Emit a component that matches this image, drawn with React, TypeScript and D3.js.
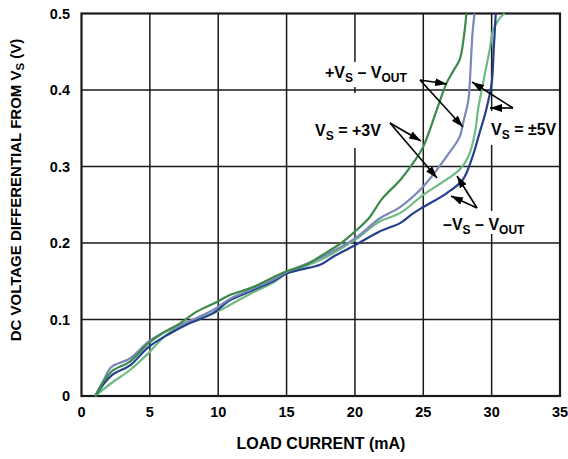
import React from "react";
import * as d3 from "d3";

const xTicks = [0, 5, 10, 15, 20, 25, 30, 35];
const yTicks = [0, 0.1, 0.2, 0.3, 0.4, 0.5];
const yTickLabels = ["0", "0.1", "0.2", "0.3", "0.4", "0.5"];

const darkGreen: [number, number][] = [
  [1, 0], [2.2, 0.032], [3.55, 0.045], [4.9, 0.069], [6, 0.083], [7.2, 0.095], [8.4, 0.11],
  [9.9, 0.123], [10.85, 0.132], [12.5, 0.142], [14, 0.155], [15, 0.163], [16.5, 0.172],
  [17.5, 0.183], [19, 0.2], [20, 0.215], [21, 0.232], [22, 0.258], [23.3, 0.282], [24.2, 0.303],
  [25, 0.326], [26.1, 0.38], [26.7, 0.409], [27.2, 0.425], [27.67, 0.44], [28.0, 0.474], [28.15, 0.5],
];
const slateBlue: [number, number][] = [
  [1, 0], [1.6, 0.02], [2.2, 0.038], [3.55, 0.049], [4.9, 0.071], [6, 0.083], [7.9, 0.098],
  [9.6, 0.112], [10.85, 0.127], [12.5, 0.14], [14, 0.152], [15, 0.162], [17.5, 0.181], [20, 0.206],
  [21.8, 0.232], [23.3, 0.247], [25, 0.274], [26.7, 0.313], [27.67, 0.339], [27.9, 0.356],
  [28.3, 0.387], [28.4, 0.409], [28.6, 0.474], [28.75, 0.5],
];
const lightGreen: [number, number][] = [
  [1, 0], [2.2, 0.017], [3.55, 0.034], [4.9, 0.056], [6.2, 0.08], [7.9, 0.097], [9.9, 0.11],
  [10.85, 0.119], [12.5, 0.135], [14, 0.148], [15, 0.16], [17.5, 0.178], [20, 0.204], [21.8, 0.228],
  [23.3, 0.239], [25, 0.263], [27.67, 0.296], [28.3, 0.313], [28.77, 0.343], [29.0, 0.374],
  [29.37, 0.409], [29.85, 0.452], [30.1, 0.478], [30.6, 0.494], [30.95, 0.5],
];
const darkBlue: [number, number][] = [
  [1, 0], [2.2, 0.027], [3.55, 0.04], [4.9, 0.064], [6.5, 0.082], [7.9, 0.095], [9.6, 0.108],
  [10.85, 0.125], [12.5, 0.138], [14, 0.15], [15, 0.16], [16, 0.165], [17.5, 0.172], [18.5, 0.183],
  [20, 0.197], [21.8, 0.215], [23.3, 0.226], [24.2, 0.238], [25, 0.247], [26.7, 0.265],
  [27.9, 0.283], [28.64, 0.315], [29.1, 0.343], [29.6, 0.374], [30.0, 0.409], [30.15, 0.452], [30.3, 0.5],
];

const series = [
  { data: lightGreen, color: "#6dbb82" },
  { data: darkBlue, color: "#22408e" },
  { data: slateBlue, color: "#7b88b8" },
  { data: darkGreen, color: "#3b8a4c" },
];

const W = 568, H = 459;
const left = 81.5, right = 560, top = 13.5, bottom = 396;
const FONT = "'Liberation Sans', Arial, sans-serif";

export default function App() {
  const x = d3.scaleLinear().domain([0, 35]).range([left, right]);
  const y = d3.scaleLinear().domain([0, 0.5]).range([bottom, top]);
  const line = d3
    .line<[number, number]>()
    .x((d) => x(d[0]))
    .y((d) => y(d[1]))
    .curve(d3.curveCatmullRom.alpha(0.5));

  const arrows: [number, number, number, number][] = [
    [420, 80, 447, 84],
    [420, 80, 463, 127],
    [390, 123, 421, 141],
    [390, 123, 437, 178],
    [513, 108, 472, 82],
    [513, 108, 490, 108],
    [477, 208, 457, 176],
    [477, 208, 451, 196],
  ];

  const AF = 16;
  const SF = 12;
  const sub = (t: string) => (
    <tspan fontSize={SF} dy={3.5}>{t}</tspan>
  );

  return (
    <svg width={W} height={H} style={{ position: "absolute", left: 0, top: 0, background: "#fff" }}
      fontFamily={FONT}>
      <defs>
        <marker id="ah" viewBox="0 0 12 8" refX="12" refY="4" markerWidth="12" markerHeight="8"
          markerUnits="userSpaceOnUse" orient="auto">
          <path d="M0,0 L12,4 L0,8 z" fill="#000" />
        </marker>
      </defs>
      <rect width={W} height={H} fill="#fff" />
      {/* grid */}
      {xTicks.slice(1, -1).map((t) => (
        <line key={"gx" + t} x1={x(t)} x2={x(t)} y1={top} y2={bottom} stroke="#1a1a1a" strokeWidth={1.5} />
      ))}
      {yTicks.slice(1, -1).map((t) => (
        <line key={"gy" + t} x1={left} x2={right} y1={y(t)} y2={y(t)} stroke="#1a1a1a" strokeWidth={1.5} />
      ))}
      {/* label backgrounds */}
      <rect x={322} y={62} width={93} height={25} fill="#fff" />
      <rect x={310} y={93} width={75} height={55} fill="#fff" />
      <rect x={488} y={111} width={68} height={34} fill="#fff" />
      <rect x={440} y={211} width={90} height={23} fill="#fff" />
      {/* frame */}
      <rect x={left} y={top} width={right - left} height={bottom - top} fill="none" stroke="#1a1a1a" strokeWidth={2.2} />
      {/* curves */}
      {series.map((s, i) => (
        <path key={i} d={line(s.data) || ""} fill="none" stroke={s.color} strokeWidth={2.2} />
      ))}
      {/* arrows */}
      {arrows.map((a, i) => (
        <line key={"a" + i} x1={a[0]} y1={a[1]} x2={a[2]} y2={a[3]} stroke="#000" strokeWidth={1.6} markerEnd="url(#ah)" />
      ))}
      {/* annotations */}
      <text x={325} y={78} fontSize={AF} fontWeight="bold" fill="#000">
        +V{sub("S")}<tspan dy={-3.5} fontSize={AF}> – V</tspan>{sub("OUT")}
      </text>
      <text x={315} y={136} fontSize={AF} fontWeight="bold" fill="#000">
        V{sub("S")}<tspan dy={-3.5} fontSize={AF}> = +3V</tspan>
      </text>
      <text x={491} y={135} fontSize={AF} fontWeight="bold" fill="#000">
        V{sub("S")}<tspan dy={-3.5} fontSize={AF}> = ±5V</tspan>
      </text>
      <text x={443} y={230} fontSize={AF} fontWeight="bold" fill="#000">
        –V{sub("S")}<tspan dy={-3.5} fontSize={AF}> – V</tspan>{sub("OUT")}
      </text>
      {/* tick labels */}
      {xTicks.map((t) => (
        <text key={"tx" + t} x={x(t)} y={417} textAnchor="middle" fontSize={14.5} fontWeight="bold">{t}</text>
      ))}
      {yTicks.map((t, i) => (
        <text key={"ty" + t} x={70} y={y(t) + 5} textAnchor="end" fontSize={14.5} fontWeight="bold">{yTickLabels[i]}</text>
      ))}
      {/* axis titles */}
      <text x={321} y={449} textAnchor="middle" fontSize={16} fontWeight="bold">LOAD CURRENT (mA)</text>
      <text transform={`translate(21, 190) rotate(-90)`} textAnchor="middle" fontSize={15} fontWeight="bold">
        DC VOLTAGE DIFFERENTIAL FROM V<tspan fontSize={11.5} dy={3}>S</tspan><tspan dy={-3}> (V)</tspan>
      </text>
    </svg>
  );
}
